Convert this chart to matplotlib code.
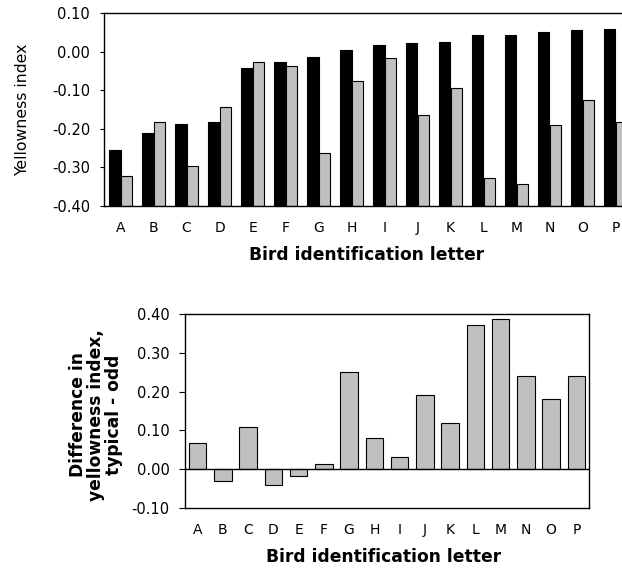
import matplotlib
matplotlib.use("Agg")
import matplotlib.pyplot as plt
import numpy as np

birds = list("ABCDEFGHIJKLMNOP")
typical = [-0.254, -0.211, -0.187, -0.182, -0.043, -0.026, -0.013, 0.004,
           0.017, 0.021, 0.026, 0.042, 0.042, 0.051, 0.055, 0.059]
odd = [-0.322, -0.183, -0.296, -0.144, -0.026, -0.038, -0.263, -0.075,
       -0.017, -0.165, -0.094, -0.327, -0.342, -0.191, -0.126, -0.183]
difference = [0.068, -0.030, 0.110, -0.042, -0.017, 0.014, 0.250, 0.081,
              0.031, 0.190, 0.118, 0.371, 0.388, 0.240, 0.182, 0.240]

top_yticks = [0.10, 0.00, -0.10, -0.20, -0.30, -0.40]
bot_yticks = [0.40, 0.30, 0.20, 0.10, 0.00, -0.10]

def fmt(v):
    return "%.2f" % v

W, H = 622, 568
fig = plt.figure(figsize=(W / 100, H / 100), dpi=100)

def px_axes(left, top, right, bottom):
    return fig.add_axes([left / W, 1 - bottom / H, (right - left) / W, (bottom - top) / H])

GRAY = "#c0c0c0"
x = np.arange(len(birds))

# Top chart
ax1 = px_axes(104, 13, 632, 206)
bw = 0.35
base = -0.40
ax1.bar(x - bw / 2, np.array(typical) - base, bottom=base, width=bw,
        color="black", edgecolor="black", linewidth=0.8)
ax1.bar(x + bw / 2, np.array(odd) - base, bottom=base, width=bw,
        color=GRAY, edgecolor="black", linewidth=0.8)
ax1.set_xlim(-0.5, 15.5)
ax1.set_ylim(-0.40, 0.10)
ax1.set_yticks(top_yticks)
ax1.set_yticklabels([fmt(v) for v in top_yticks])
ax1.set_xticks(x)
ax1.set_xticklabels(birds)
ax1.tick_params(axis="x", length=0, pad=11, labelsize=10)
ax1.tick_params(axis="y", length=3, width=0.8, pad=7, labelsize=10.5, direction="out")
for s in ax1.spines.values():
    s.set_linewidth(1.0)
ax1.set_ylabel("Yellowness index", fontsize=11.3, va="center")
ax1.yaxis.set_label_coords(-0.155, 0.5)
ax1.set_xlabel("Bird identification letter", fontsize=12.3, fontweight="bold", va="center")
ax1.xaxis.set_label_coords(0.497, -0.254)

# Bottom chart
ax2 = px_axes(185, 314, 589, 508)
ax2.bar(x, difference, width=0.7, color=GRAY, edgecolor="black", linewidth=0.8)
ax2.axhline(0, color="black", linewidth=1.0)
ax2.set_xlim(-0.5, 15.5)
ax2.set_ylim(-0.10, 0.40)
ax2.set_yticks(bot_yticks)
ax2.set_yticklabels([fmt(v) for v in bot_yticks])
ax2.set_xticks(x)
ax2.set_xticklabels(birds)
ax2.tick_params(axis="x", length=0, pad=11, labelsize=10)
ax2.tick_params(axis="y", length=4, width=0.8, pad=7, labelsize=10.5, direction="out")
for s in ax2.spines.values():
    s.set_linewidth(1.0)
ax2.set_ylabel("Difference in\nyellowness index,\ntypical - odd", fontsize=12.3,
               fontweight="bold", linespacing=1.0, va="center")
ax2.yaxis.set_label_coords(-0.22, 0.48)
ax2.set_xlabel("Bird identification letter", fontsize=12.3, fontweight="bold", va="center")
ax2.xaxis.set_label_coords(0.492, -0.253)

fig.savefig("out.png", dpi=100)
